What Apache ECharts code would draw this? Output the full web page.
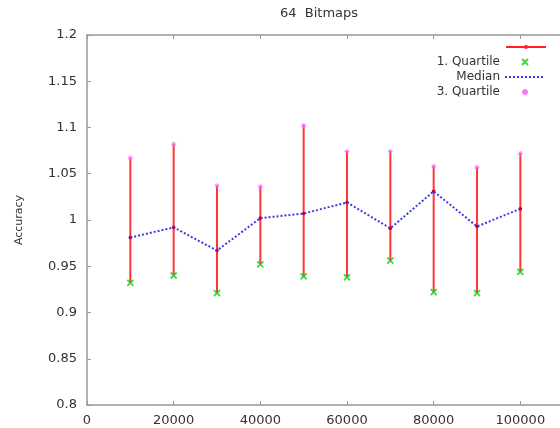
<!DOCTYPE html>
<html>
<head>
<meta charset="utf-8">
<title>64 Bitmaps</title>
<script src="https://cdn.jsdelivr.net/npm/echarts@6/dist/echarts.min.js"></script>
<style>
  html, body { margin: 0; padding: 0; background: #fff; }
  #chart { width: 560px; height: 428px; }
</style>
</head>
<body>
<div id="chart"></div>
<script>
// values
const sizes = [10000, 20000, 30000, 40000, 50000, 60000, 70000, 80000, 90000, 100000];
const quartile1 = [0.932, 0.940, 0.921, 0.952, 0.939, 0.938, 0.956, 0.922, 0.921, 0.944];
const median = [0.981, 0.992, 0.967, 1.002, 1.007, 1.019, 0.991, 1.031, 0.993, 1.012];
const quartile3 = [1.067, 1.082, 1.037, 1.036, 1.102, 1.074, 1.074, 1.058, 1.057, 1.072];

const FONT = 'DejaVu Sans';
const AXIS_GREY = '#999999';
const TEXT = '#333333';

const crossIcon = 'path://M0,0L10,10M10,0L0,10';
const starIcon = 'path://M5,0L5,10M0,5L10,5M1.5,1.5L8.5,8.5M8.5,1.5L1.5,8.5';
const barIcon = 'path://M0,3h40v2h-40z M18,4a2,2 0 1,1 4,0a2,2 0 1,1 -4,0z';

const pairs = (ys) => sizes.map((x, i) => [x, ys[i]]);

const chart = echarts.init(document.getElementById('chart'), null, { renderer: 'canvas' });

const baseAxis = {
  type: 'value',
  min: 0,
  max: 120000,
  interval: 20000,
  axisLine: { show: true, lineStyle: { color: AXIS_GREY, width: 1.5 } },
  axisTick: { show: true, inside: true, length: 4, lineStyle: { color: AXIS_GREY } },
  splitLine: { show: false },
};

chart.setOption({
  animation: false,
  backgroundColor: '#ffffff',
  title: {
    text: '64  Bitmaps',
    left: 275,
    top: 2,
    textStyle: { fontFamily: FONT, fontSize: 13, fontWeight: 'normal', color: TEXT },
  },
  legend: [
    {
      data: [{ name: ' ', icon: barIcon }],
      left: 506,
      top: 45,
      padding: 0,
      itemWidth: 40,
      itemHeight: 4,
      symbolKeepAspect: false,
      selectedMode: false,
      textStyle: { fontSize: 1 },
    },
    {
      data: [
        '1. Quartile',
        { name: 'Median', itemStyle: { color: 'rgba(0,0,0,0)', borderWidth: 0 } },
        '3. Quartile',
      ],
      orient: 'vertical',
      align: 'right',
      right: 14,
      top: 56,
      padding: 0,
      itemWidth: 40,
      itemHeight: 6,
      itemGap: 3,
      selectedMode: false,
      textStyle: { fontFamily: FONT, fontSize: 12, color: TEXT },
    },
  ],
  grid: {
    left: 87,
    top: 35,
    width: 520,
    height: 370,
    outerBoundsMode: 'none',
  },
  xAxis: [
    Object.assign({}, baseAxis, {
      position: 'bottom',
      axisLabel: {
        fontFamily: FONT,
        fontSize: 13,
        color: TEXT,
        margin: 9,
        formatter: (v) => String(v),
      },
    }),
    Object.assign({}, baseAxis, {
      position: 'top',
      axisLabel: { show: false },
    }),
  ],
  yAxis: {
    type: 'value',
    min: 0.8,
    max: 1.2,
    interval: 0.05,
    name: 'Accuracy',
    nameLocation: 'middle',
    nameGap: 62,
    nameTextStyle: { fontFamily: FONT, fontSize: 11, color: TEXT },
    axisLine: { show: true, lineStyle: { color: AXIS_GREY, width: 1.5 } },
    axisTick: { show: true, inside: true, length: 4, lineStyle: { color: AXIS_GREY } },
    splitLine: { show: false },
    axisLabel: {
      fontFamily: FONT,
      fontSize: 13,
      color: TEXT,
      margin: 10,
      formatter: (v) => String(Math.round(v * 100) / 100),
    },
  },
  series: [
    {
      name: ' ',
      type: 'custom',
      data: sizes.map((x, i) => [x, quartile1[i], quartile3[i], median[i]]),
      encode: { x: 0, y: [1, 2, 3] },
      itemStyle: { color: '#ff2020' },
      renderItem: (params, api) => {
        const x = api.value(0);
        const lo = api.coord([x, api.value(1)]);
        const hi = api.coord([x, api.value(2)]);
        const mid = api.coord([x, api.value(3)]);
        return {
          type: 'group',
          children: [
            {
              type: 'line',
              shape: { x1: lo[0], y1: lo[1], x2: hi[0], y2: hi[1] },
              style: { stroke: '#ff3535', lineWidth: 2 },
            },
            {
              type: 'circle',
              shape: { cx: mid[0], cy: mid[1], r: 1.8 },
              style: { fill: '#c00028' },
            },
          ],
        };
      },
    },
    {
      name: '1. Quartile',
      type: 'scatter',
      data: pairs(quartile1),
      symbol: crossIcon,
      symbolSize: 6,
      itemStyle: { color: '#22dd22', borderColor: '#11cc11', borderWidth: 1.8 },
    },
    {
      name: 'Median',
      type: 'line',
      data: pairs(median),
      symbol: 'none',
      lineStyle: { color: '#3a3ae6', width: 2, type: [2, 2] },
      itemStyle: { color: '#3a3ae6' },
      z: 3,
    },
    {
      name: '3. Quartile',
      type: 'scatter',
      data: pairs(quartile3),
      symbol: starIcon,
      symbolSize: 5,
      itemStyle: { color: '#ff55ff', borderColor: '#ff55ff', borderWidth: 1 },
    },
  ],
});
</script>
</body>
</html>
